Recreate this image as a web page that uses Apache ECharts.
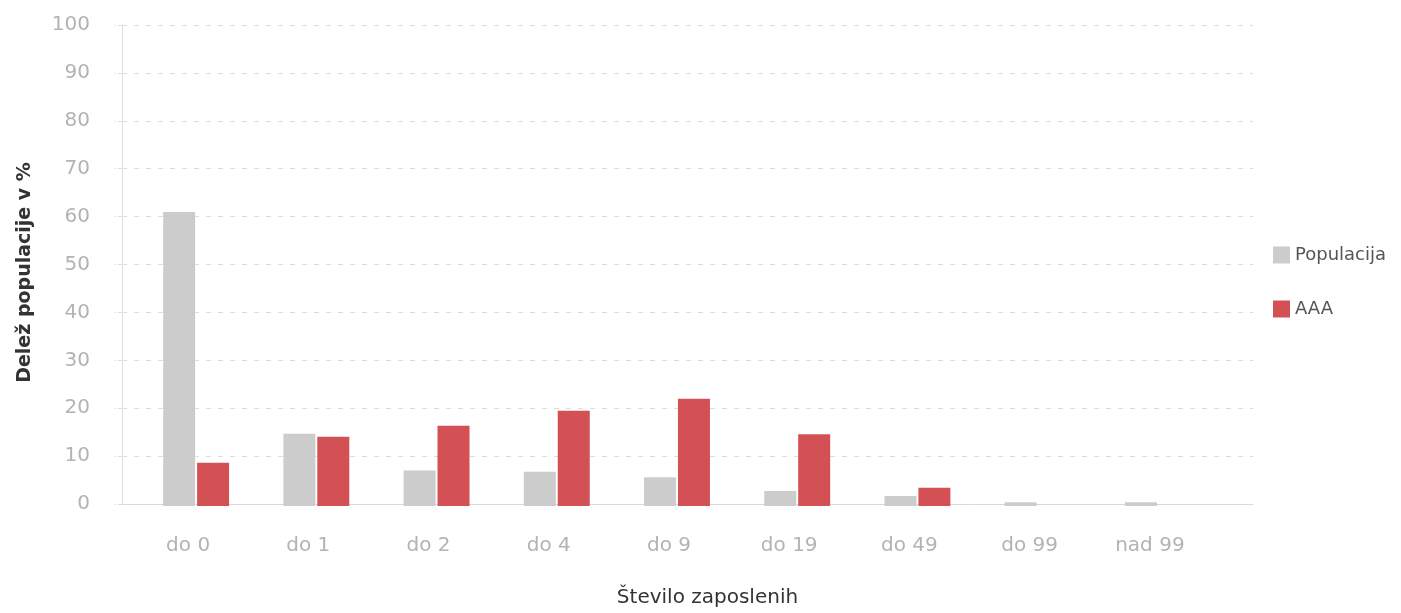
<!DOCTYPE html>
<html>
<head>
<meta charset="utf-8">
<script src="https://cdn.jsdelivr.net/npm/echarts@6/dist/echarts.min.js"></script>
<style>html,body{margin:0;padding:0;background:#fff}#c{width:1401px;height:613px}</style>
</head>
<body>
<div id="c"></div>
<script>
const categories = ['do 0', 'do 1', 'do 2', 'do 4', 'do 9', 'do 19', 'do 49', 'do 99', 'nad 99'];
const populacija = [61.1, 15.0, 7.4, 7.1, 6.0, 3.1, 2.1, 0.8, 0.8];
const aaa = [9.0, 14.4, 16.7, 19.8, 22.3, 14.9, 3.8, 0, 0];
const yTicks = [0, 10, 20, 30, 40, 50, 60, 70, 80, 90, 100];

const chart = echarts.init(document.getElementById('c'));
chart.setOption({
  animation: false,
  textStyle: { fontFamily: 'DejaVu Sans' },
  legend: {
    orient: 'vertical', left: 1268, top: 241,
    itemWidth: 17, itemHeight: 17, itemGap: 36,
    icon: 'rect',
    textStyle: { fontSize: 18, color: '#555', fontFamily: 'DejaVu Sans' },
    data: ['Populacija', 'AAA']
  },
  grid: [
    { left: 122, right: 148, top: 25, bottom: 107 },
    { left: 136, right: 183, top: 25, bottom: 107 }
  ],
  xAxis: [
    {
      gridIndex: 0, type: 'category', data: categories,
      axisLine: { show: true, lineStyle: { color: '#d9d9d9', width: 1 } },
      axisTick: { show: false }, axisLabel: { show: false },
      name: 'Število zaposlenih', nameLocation: 'middle', nameGap: 84,
      nameTextStyle: { fontSize: 20, color: '#333', padding: [0, 0, 0, 40] }
    },
    {
      gridIndex: 1, type: 'category', data: categories,
      axisLine: { show: false }, axisTick: { show: false },
      axisLabel: { fontSize: 20, color: '#b3b3b3', margin: 30, padding: [0, 16, 0, 0] }
    }
  ],
  yAxis: [
    {
      gridIndex: 0, type: 'value', min: 0, max: 100, interval: 10,
      axisLine: { show: true, lineStyle: { color: '#e0e0e0' } },
      axisTick: { show: true, length: 7, lineStyle: { color: '#ddd', type: 'dashed' } },
      axisLabel: { fontSize: 20, color: '#b3b3b3', margin: 32,
        formatter: v => yTicks.includes(v) ? String(v) : '' },
      splitLine: { show: true, lineStyle: { color: '#ddd', type: [5, 7] } },
      name: 'Delež populacije v %', nameLocation: 'middle', nameGap: 87,
      nameTextStyle: { fontSize: 19, fontWeight: 'bold', color: '#333', padding: [0, 16, 0, 0] }
    },
    {
      gridIndex: 1, type: 'value', min: 0, max: 100, interval: 10,
      axisLine: { show: false }, axisTick: { show: false },
      axisLabel: { show: false }, splitLine: { show: false }
    }
  ],
  series: [
    {
      name: 'Populacija', type: 'bar', xAxisIndex: 1, yAxisIndex: 1,
      data: populacija, barWidth: 32, barGap: '6%',
      itemStyle: { color: '#cccccc' }
    },
    {
      name: 'AAA', type: 'bar', xAxisIndex: 1, yAxisIndex: 1,
      data: aaa, barWidth: 32, barGap: '6%',
      itemStyle: { color: '#d35055' }
    }
  ]
});
</script>
</body>
</html>
